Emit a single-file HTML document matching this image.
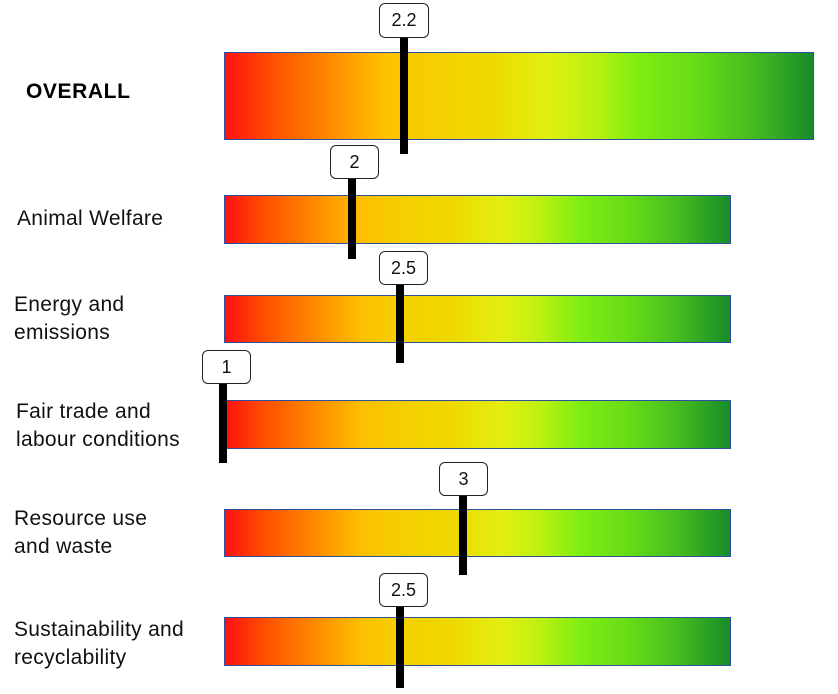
<!DOCTYPE html>
<html><head><meta charset="utf-8"><style>
body{margin:0;width:838px;height:694px;background:#fff;position:relative;overflow:hidden;font-family:"Liberation Sans",sans-serif;}
.bar{position:absolute;left:224px;box-sizing:border-box;border:1.5px solid #2f4f9f;
background:linear-gradient(to right,#ff1010 0%,#ff5000 8%,#fe7a00 15%,#fdc000 27%,#f6cf00 35%,#eed800 45%,#e2ef10 55%,#b8f010 63%,#80ee12 70%,#66dc18 80%,#45bb20 90%,#178c28 100%);}
.lbl{position:absolute;left:14px;font-size:21px;letter-spacing:0.3px;line-height:28px;color:#111;}
.box{position:absolute;width:48px;height:34px;box-sizing:border-box;border:1.3px solid #222;border-radius:6px;background:#fff;font-size:18px;text-align:center;line-height:32px;color:#111;}
.ln{position:absolute;width:8px;background:#000;}
</style></head><body>
<div class="bar" style="top:52px;width:590px;height:88px"></div>
<div class="bar" style="top:195px;width:507px;height:49px"></div>
<div class="bar" style="top:295px;width:507px;height:48px"></div>
<div class="bar" style="top:400px;width:507px;height:49px"></div>
<div class="bar" style="top:509px;width:507px;height:48px"></div>
<div class="bar" style="top:617px;width:507px;height:49px"></div>

<div style="position:absolute;left:26px;top:80px;font-size:21px;font-weight:bold;letter-spacing:0.6px;line-height:24px">OVERALL</div>
<div class="lbl" style="top:205px;left:17px">Animal Welfare</div>
<div class="lbl" style="top:291px">Energy and<br>emissions</div>
<div class="lbl" style="top:398px;left:16px">Fair trade and<br>labour conditions</div>
<div class="lbl" style="top:505px">Resource use<br>and waste</div>
<div class="lbl" style="top:616px">Sustainability and<br>recyclability</div>

<div class="ln" style="left:400px;top:37px;height:117px"></div>
<div class="box" style="left:379px;top:3px;width:50px;height:35px">2.2</div>
<div class="ln" style="left:348px;top:179px;height:80px"></div>
<div class="box" style="left:330px;top:145px;width:49px">2</div>
<div class="ln" style="left:396px;top:285px;height:78px"></div>
<div class="box" style="left:379px;top:251px;width:49px">2.5</div>
<div class="ln" style="left:219px;top:383px;height:80px"></div>
<div class="box" style="left:202px;top:350px;width:49px">1</div>
<div class="ln" style="left:459px;top:495px;height:80px"></div>
<div class="box" style="left:439px;top:462px;width:49px">3</div>
<div class="ln" style="left:396px;top:606px;height:82px"></div>
<div class="box" style="left:379px;top:573px;width:49px">2.5</div>
</body></html>
